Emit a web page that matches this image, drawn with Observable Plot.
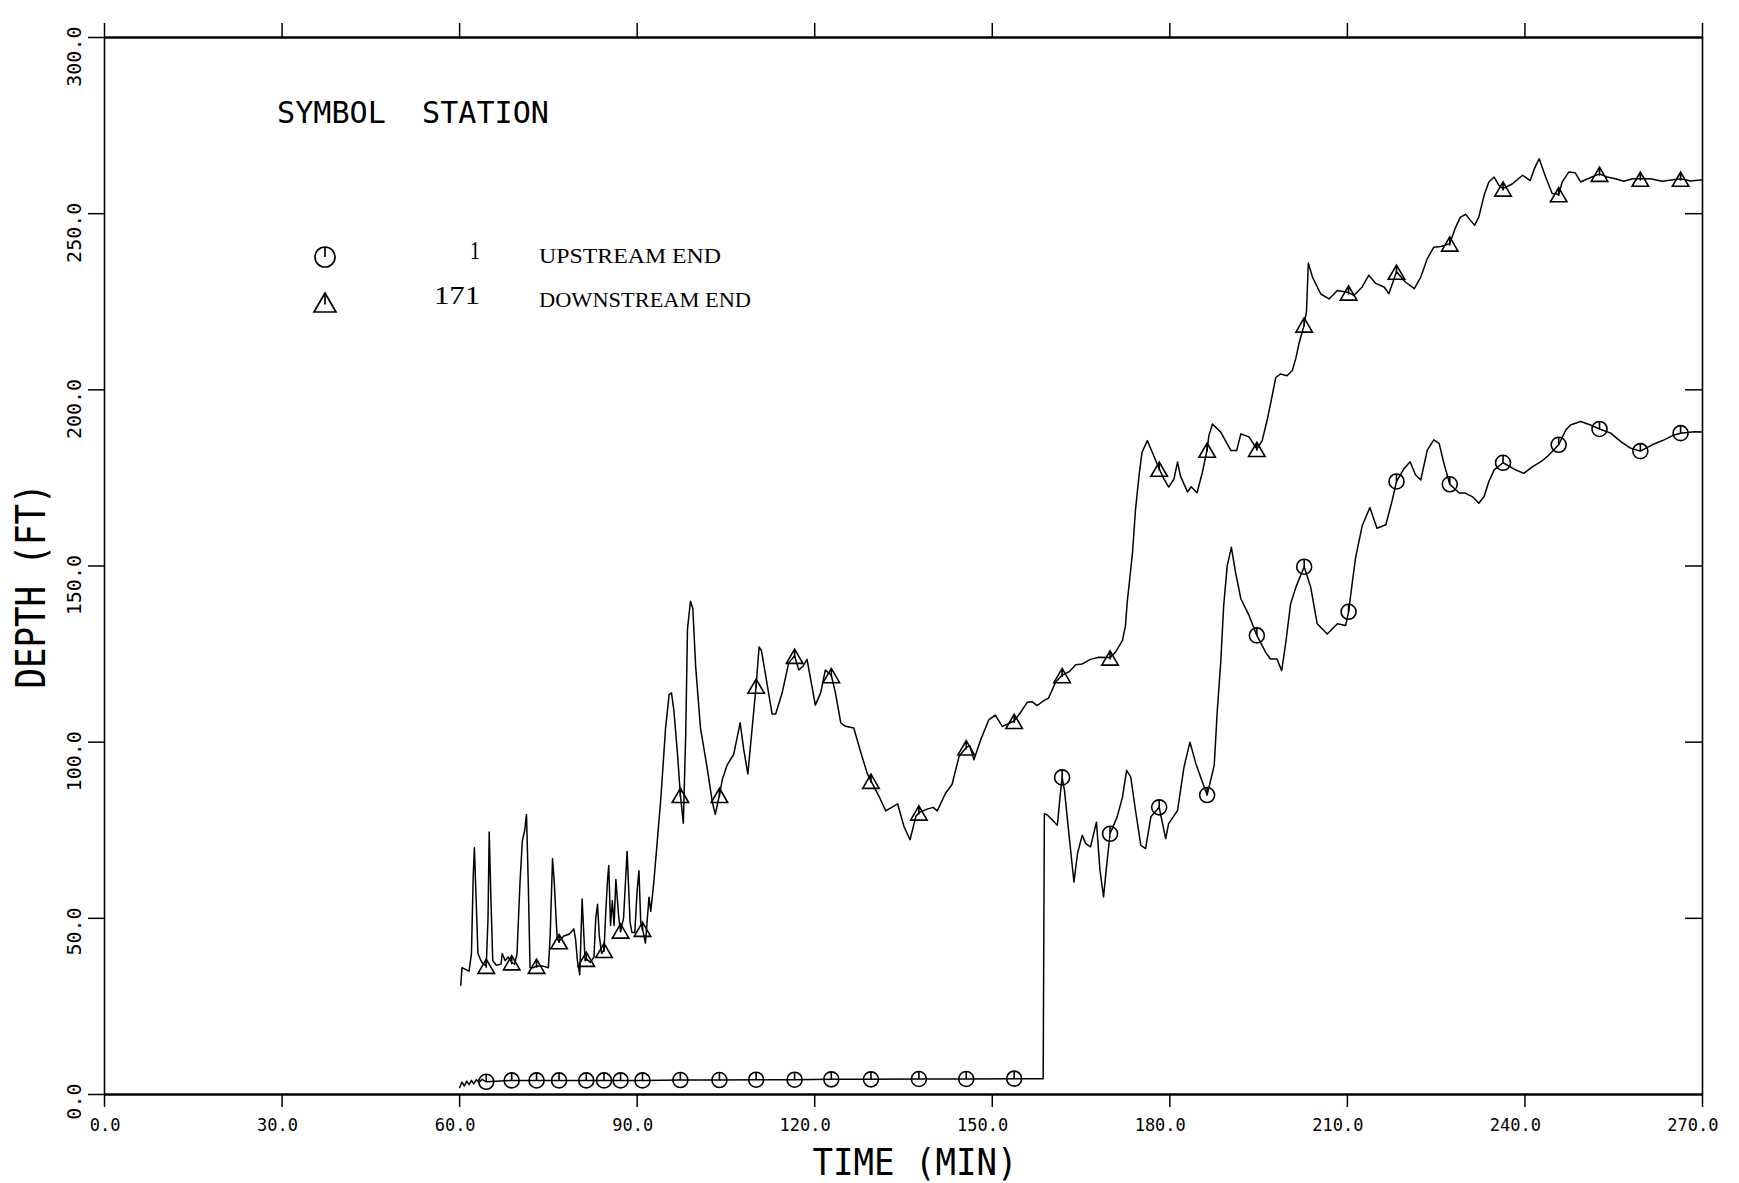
<!DOCTYPE html>
<html>
<head>
<meta charset="utf-8">
<script src="https://cdn.jsdelivr.net/npm/d3@7"></script>
<script src="https://cdn.jsdelivr.net/npm/@observablehq/plot@0.6"></script>
<style>
  html, body { margin: 0; padding: 0; background: #fff; }
  #chart svg { display: block; }
</style>
</head>
<body>
<div id="chart"></div>
<script>
// ---- axis ticks ----
const xTicks = [0, 30, 60, 90, 120, 150, 180, 210, 240, 270];
const yTicks = [0, 50, 100, 150, 200, 250, 300];
const rightTicks = [50, 100, 150, 200, 250];

// ---- times (min) at which station symbols are plotted ----
const markerTimes = [64.5, 68.8, 73.0, 76.8, 81.4, 84.4, 87.2, 90.9, 97.3, 103.9, 110.1, 116.6,
  122.8, 129.5, 137.6, 145.6, 153.7, 161.8, 169.9, 178.2, 186.3, 194.7, 202.7, 210.2, 218.3,
  227.3, 236.3, 245.7, 252.6, 259.5, 266.3];

// ---- station 171 (downstream end): time (min) and depth (ft) ----
const downTime = [60.2, 60.4, 61.0, 61.6, 62.0, 62.3, 62.5, 62.8, 63.1, 63.6, 64.0, 64.5, 64.8, 65.0,
  65.3, 65.6, 66.2, 67.0, 67.2, 67.7, 68.2, 68.8, 69.3, 69.7, 70.2, 70.6, 71.0, 71.3, 71.6, 71.9,
  72.5, 73.0, 74.0, 75.0, 75.3, 75.7, 76.0, 76.3, 76.5, 76.8, 77.6, 78.5, 79.3, 79.6, 79.9, 80.3,
  80.7, 81.0, 81.2, 81.4, 82.1, 82.7, 83.0, 83.3, 83.6, 84.0, 84.4, 84.7, 85.0, 85.2, 85.5, 85.8,
  86.1, 86.4, 86.9, 87.2, 87.7, 88.3, 88.8, 89.1, 89.6, 90.0, 90.3, 90.6, 90.9, 91.4, 92.0, 92.3,
  92.8, 93.4, 94.0, 94.8, 95.4, 95.8, 96.2, 96.8, 97.3, 97.8, 98.2, 98.5, 99.0, 99.4, 99.9, 100.7,
  101.8, 102.7, 103.2, 103.9, 104.4, 105.2, 106.3, 107.4, 108.0, 108.7, 109.4, 110.1, 110.6, 111.0,
  111.7, 112.8, 113.4, 114.5, 115.6, 116.6, 117.3, 118.0, 118.7, 119.3, 120.1, 121.0, 121.8, 122.8,
  123.5, 124.4, 125.2, 126.6, 127.8, 128.9, 129.5, 130.9, 132.0, 134.0, 135.1, 136.1, 137.1, 137.6,
  139.0, 140.0, 140.7, 142.1, 143.2, 144.4, 145.6, 146.2, 146.9, 148.0, 149.4, 150.5, 151.7, 153.7,
  154.8, 155.9, 156.7, 157.6, 158.7, 159.5, 160.7, 161.8, 163.0, 164.1, 165.2, 166.6, 168.0, 169.9,
  170.8, 172.0, 172.5, 172.8, 173.7, 174.2, 174.8, 175.3, 176.2, 176.8, 178.2, 179.0, 179.8, 180.7,
  181.3, 181.8, 183.0, 183.6, 184.6, 185.5, 186.3, 186.6, 187.2, 188.6, 190.3, 191.3, 192.0, 193.4,
  194.7, 195.6, 196.5, 197.3, 197.9, 198.7, 199.8, 200.7, 201.3, 201.8, 202.7, 203.1, 203.4, 204.1,
  205.5, 206.9, 208.3, 210.2, 211.1, 212.5, 213.6, 214.8, 216.2, 217.0, 217.9, 218.3, 219.8, 221.3,
  222.4, 223.5, 224.6, 225.8, 227.3, 228.3, 229.1, 230.0, 230.8, 231.5, 232.2, 233.1, 233.9, 234.8,
  235.6, 236.3, 237.9, 239.6, 240.9, 241.6, 242.4, 243.5, 244.6, 245.7, 246.3, 247.4, 248.5, 249.4,
  250.6, 252.6, 253.9, 255.3, 256.7, 258.2, 259.5, 261.2, 263.2, 266.3, 268.0, 270.0];
const downDepth = [31, 36, 35.5, 35, 40, 62, 70, 55, 40, 38, 37, 36.5, 50, 74.5,
  55, 38, 36.7, 37, 40, 38, 39, 37.5, 37, 40, 60, 72, 75, 79.5, 60, 36,
  36, 36.5, 36.5, 36, 45, 67, 60, 50, 44, 43.5, 45, 45.5, 47, 44, 38, 34,
  55.5, 45, 38, 38.5, 37.5, 39, 50, 54, 45, 40, 41, 52, 61, 65, 48, 55,
  48, 61, 50, 46.5, 50, 69, 49, 46, 46, 58, 63.5, 49, 47, 43, 56, 52,
  60, 72, 84, 104, 113.5, 114, 109, 97, 85, 77, 102, 132, 140, 138, 121, 104,
  93, 83, 79.5, 85, 89.5, 93.5, 96.5, 105.5, 98, 91, 103.5, 116, 127, 126,
  119, 108, 108, 114, 122.5, 124.5, 120.5, 121.5, 123.5, 118, 110.5, 114, 120.5, 119,
  114, 105.5, 104.5, 104, 97, 91, 89, 84.5, 80.5, 82.5, 76, 72.3, 79, 80,
  81, 81.5, 80.5, 85.5, 88, 96, 98.5, 99, 95, 100.5, 106.3, 107.7, 104.5, 106,
  108.5, 111.3, 111.5, 110.4, 111.8, 112.5, 117, 119, 120, 122, 122.2, 123.5, 124.1, 124,
  125.5, 128.9, 133, 139.7, 153.9, 166, 175.7, 182.3, 185.6, 183.2, 177.6, 174.7, 172.4, 174.7,
  179.5, 175.5, 171, 172.5, 170.8, 176.6, 183, 187, 190.3, 188, 182.8, 182.8, 187.5, 186.6,
  183.2, 185.6, 191.8, 198.4, 203.5, 204.5, 204, 205.5, 209, 213, 218.5, 222.5, 236, 232,
  227.2, 225.8, 228.2, 227.6, 226.8, 229.2, 232.5, 230.2, 229.2, 227.3, 231.5, 233.5, 230.6, 228.7,
  232, 237.2, 240.5, 240.7, 241.5, 246.2, 249, 249.8, 248.1, 246.7, 249, 255.2, 259, 260.4,
  258, 257.1, 258.5, 260.9, 259.4, 262.8, 265.6, 260.4, 255.7, 255.5, 259, 261.8, 261.6, 259,
  259.9, 261.3, 260.4, 259.9, 259.2, 259.9, 259.9, 259.9, 259.2, 259.9, 259.3, 259.6];

// ---- station 1 (upstream end): time (min) and depth (ft) ----
const upTime = [60.0, 60.4, 60.8, 61.2, 61.6, 62.0, 62.4, 62.8, 63.3, 63.8, 64.5, 68.8, 73.0, 76.8,
  81.4, 84.4, 87.2, 90.9, 97.3, 103.9, 110.1, 116.6, 122.8, 129.5, 137.6, 145.6, 153.7, 158.6,
  158.8, 159.4, 161.0, 161.5, 161.8, 162.2, 163.0, 163.8, 164.4, 165.2, 165.8, 166.6, 167.6, 168.2,
  168.8, 169.3, 169.9, 171.1, 172.0, 172.7, 173.4, 174.2, 175.1, 175.9, 176.8, 178.2, 179.3, 179.8,
  181.3, 182.4, 183.4, 184.4, 185.5, 186.3, 187.5, 188.0, 188.6, 189.1, 189.7, 190.4, 191.1, 192.0,
  193.4, 194.7, 196.2, 197.0, 198.1, 198.9, 199.6, 200.4, 201.3, 202.7, 203.8, 204.9, 206.6, 208.3,
  209.7, 210.2, 210.8, 211.4, 212.5, 213.8, 215.0, 216.5, 217.6, 218.3, 219.6, 220.6, 221.5, 222.4,
  223.5, 224.6, 225.5, 226.3, 227.3, 228.9, 229.9, 231.1, 232.2, 233.1, 233.9, 234.8, 236.3, 238.4,
  239.8, 241.3, 242.7, 243.8, 245.7, 246.9, 247.7, 249.4, 251.1, 252.6, 254.5, 256.2, 257.9, 259.5,
  261.5, 263.5, 265.2, 266.3, 268.6, 270.0];
const upDepth = [2.0, 3.5, 2.4, 3.8, 2.8, 4.0, 3.0, 4.2, 3.4, 4.3, 3.6, 4.0, 4.0, 4.0,
  4.0, 4.0, 4.0, 4.0, 4.1, 4.1, 4.2, 4.2, 4.3, 4.3, 4.4, 4.4, 4.5, 4.5,
  79.7, 79.2, 76.4, 85.4, 90, 86.3, 73.1, 60.3, 68.4, 73.6, 71.2, 70.3, 77.3, 63.6,
  56.1, 64.6, 74, 78.8, 84.4, 92, 90.1, 80.6, 70.7, 69.8, 78.8, 81.5, 72.6, 76.9,
  80.6, 93, 100, 93.9, 88.7, 85, 93.4, 108.5, 122.7, 138.8, 150.1, 155.3, 148.2, 140.7,
  135.9, 130.3, 125.5, 123.6, 123.6, 120.3, 128.4, 139.2, 144, 149.8, 144, 133.6, 130.7, 133.6,
  133.1, 137, 144.9, 152.5, 161.4, 166.6, 160.7, 161.7, 168.8, 174, 177.7, 179.6, 175.9, 174.4,
  182.9, 185.8, 184.8, 179.2, 173.2, 170.7, 170.7, 169.7, 167.8, 169.7, 174, 177.3, 179.3, 177.3,
  176.3, 178.2, 179.6, 181.1, 184.4, 188.6, 190, 191, 190, 188.9, 187.7, 185.3, 183.4, 182.6,
  184.4, 185.8, 187.2, 187.7, 188.1, 188];

// ---- legend entries ----
const legendStations = ["1", "171"];
const legendNames = ["UPSTREAM END", "DOWNSTREAM END"];

// ---- pen-plotter style symbols: outline plus the pen stroke to the centre ----
const circleTick = {
  draw(ctx, size) {
    const r = Math.sqrt(size / Math.PI);
    ctx.moveTo(r, 0);
    ctx.arc(0, 0, r, 0, 2 * Math.PI);
    ctx.moveTo(0, -r);
    ctx.lineTo(0, 0);
  }
};
const triangleTick = {
  draw(ctx, size) {
    const r = Math.sqrt(size / Math.PI);
    const top = -r * 0.9, base = r * 1.0, half = r * 1.1;
    ctx.moveTo(0, top);
    ctx.lineTo(half, base);
    ctx.lineTo(-half, base);
    ctx.closePath();
    ctx.moveTo(0, top);
    ctx.lineTo(0, top + (base - top) * 0.6);
  }
};

const toRows = (ts, vs) => ts.map((t, i) => ({t, v: vs[i]}));
const downRows = toRows(downTime, downDepth);
const upRows = toRows(upTime, upDepth);
const markSet = new Set(markerTimes);
const downMarks = downRows.filter(d => markSet.has(d.t));
const upMarks = upRows.filter(d => markSet.has(d.t));

const W = 1739, H = 1183;
const margin = {top: 37, right: 37, bottom: 89, left: 104};
const ink = "#000";

const chart = Plot.plot({
  width: W,
  height: H,
  marginTop: margin.top,
  marginRight: margin.right,
  marginBottom: margin.bottom,
  marginLeft: margin.left,
  x: {domain: [0, 270]},
  y: {domain: [0, 300]},
  style: {background: "#fff", color: ink, fontFamily: "'DejaVu Sans Mono', monospace", fontSize: "17px", overflow: "visible"},
  marks: [
    // tick marks: outward on bottom, top and left; inward on the right
    Plot.axisX({anchor: "bottom", ticks: xTicks, tickSize: 13, tickFormat: () => "", label: null, strokeWidth: 1.5}),
    Plot.axisX({anchor: "top", ticks: xTicks, tickSize: 15, tickFormat: () => "", label: null, strokeWidth: 1.5}),
    Plot.axisY({anchor: "left", ticks: yTicks, tickSize: 16, tickFormat: () => "", label: null, strokeWidth: 1.5}),
    Plot.axisY({anchor: "right", ticks: rightTicks, tickSize: -18, tickFormat: () => "", label: null, strokeWidth: 1.5}),
    // frame
    Plot.ruleY([0, 300], {stroke: ink, strokeWidth: 2.4}),
    Plot.ruleX([0, 270], {stroke: ink, strokeWidth: 1.6}),
    // tick labels, decimal point on the tick
    Plot.text(xTicks, {x: d => d, frameAnchor: "bottom", text: d => d.toFixed(1), textAnchor: "end",
      lineAnchor: "middle", dx: 16, dy: 31, fontSize: 17, fill: ink}),
    Plot.text(yTicks, {y: d => d, frameAnchor: "left", text: d => d.toFixed(1), rotate: -90, textAnchor: "end",
      lineAnchor: "middle", dx: -30, dy: -11, fontSize: 20, fill: ink}),
    // depth hydrographs
    Plot.line(downRows, {x: "t", y: "v", stroke: ink, strokeWidth: 1.5}),
    Plot.line(upRows, {x: "t", y: "v", stroke: ink, strokeWidth: 1.5}),
    Plot.dot(downMarks, {x: "t", y: "v", symbol: triangleTick, r: 7.5, stroke: ink, fill: "none", strokeWidth: 1.6}),
    Plot.dot(upMarks, {x: "t", y: "v", symbol: circleTick, r: 7.5, stroke: ink, fill: "none", strokeWidth: 1.6})
  ]
});

document.getElementById("chart").appendChild(chart);

// ---- axis titles and legend ----
const svg = d3.select(chart);
const notes = svg.append("g").attr("fill", ink).attr("text-anchor", "start");

notes.append("text")
  .attr("x", 915).attr("y", 1175)
  .attr("text-anchor", "middle")
  .attr("font-family", "'DejaVu Sans Mono', monospace")
  .attr("font-size", 38)
  .attr("textLength", 205).attr("lengthAdjust", "spacingAndGlyphs")
  .text("TIME (MIN)");

notes.append("text")
  .attr("transform", "translate(45,586) rotate(-90)")
  .attr("text-anchor", "middle")
  .attr("font-family", "'DejaVu Sans Mono', monospace")
  .attr("font-size", 40)
  .attr("textLength", 205).attr("lengthAdjust", "spacingAndGlyphs")
  .text("DEPTH (FT)");

notes.append("text")
  .attr("x", 277).attr("y", 123)
  .attr("text-anchor", "start")
  .attr("font-family", "'DejaVu Sans Mono', monospace")
  .attr("font-size", 30)
  .style("white-space", "pre")
  .attr("textLength", 272).attr("lengthAdjust", "spacingAndGlyphs")
  .text("SYMBOL  STATION");

const legendSymbols = [circleTick, triangleTick];
const rowCenter = [257, 302];
const rowNameBase = [263, 307];
const rowNumBase = [259, 303.5];
const nameWidth = [182, 212];
const numWidth = [10, 46];

legendStations.forEach((s, i) => {
  notes.append("path")
    .attr("transform", `translate(325,${rowCenter[i]})`)
    .attr("d", d3.symbol(legendSymbols[i], Math.PI * 10 * 10)())
    .attr("fill", "none").attr("stroke", ink).attr("stroke-width", 1.7);
  notes.append("text")
    .attr("x", 480).attr("y", rowNumBase[i])
    .attr("text-anchor", "end")
    .attr("font-family", "'Liberation Serif', serif")
    .attr("font-size", 25)
    .attr("textLength", numWidth[i]).attr("lengthAdjust", "spacingAndGlyphs")
    .text(s);
  notes.append("text")
    .attr("x", 539).attr("y", rowNameBase[i])
    .attr("text-anchor", "start")
    .attr("font-family", "'Liberation Serif', serif")
    .attr("font-size", 22)
    .attr("textLength", nameWidth[i]).attr("lengthAdjust", "spacingAndGlyphs")
    .text(legendNames[i]);
});
</script>
</body>
</html>
